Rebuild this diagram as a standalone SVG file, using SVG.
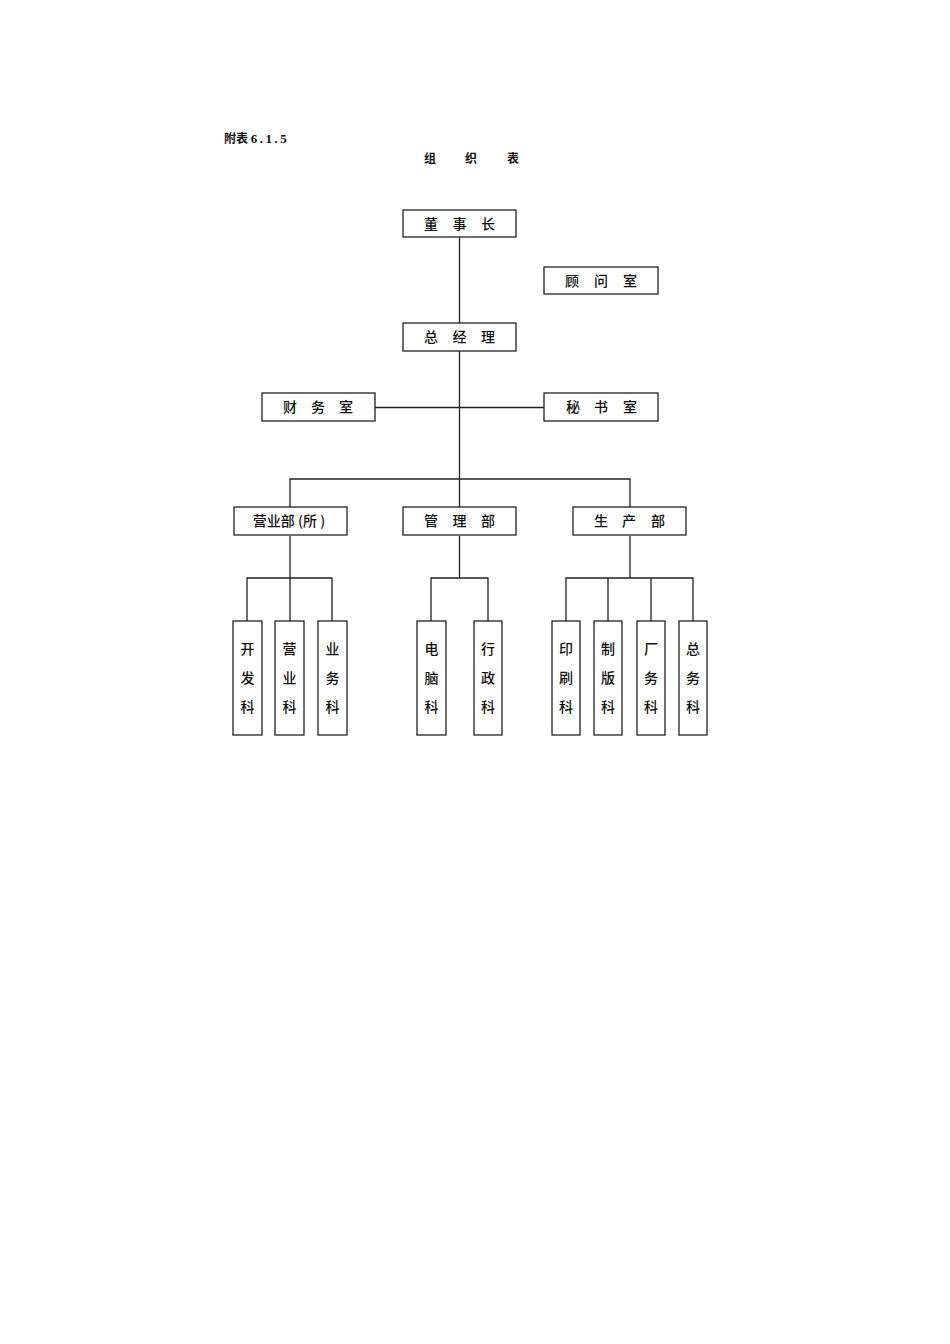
<svg xmlns="http://www.w3.org/2000/svg" width="950" height="1344" viewBox="0 0 950 1344">
<style>
rect.b{fill:#fff;stroke:#222;stroke-width:1.3}
.t{font-family:"Noto Sans CJK SC","Liberation Sans",sans-serif;font-size:14px;fill:#111;text-anchor:middle;dominant-baseline:central;font-weight:500}
.ti{font-family:"Noto Sans CJK SC","Liberation Sans",sans-serif;font-size:12px;fill:#111;text-anchor:middle;dominant-baseline:central;font-weight:bold}
.h{font-family:"Noto Sans CJK SC","Liberation Sans",sans-serif;font-size:12px;fill:#111;font-weight:bold}
#conn path{fill:none;stroke:#222;stroke-width:1.3}
</style>
<rect width="950" height="1344" fill="#fff"/>
<text class="h" x="224" y="143">附表 <tspan font-family="Liberation Serif, serif" font-size="13" letter-spacing="2.5">6.1.5</tspan></text>
<g id="title"><text class="ti" x="430" y="157">组</text><text class="ti" x="471" y="157">织</text><text class="ti" x="513" y="157">表</text></g>
<g id="conn">
<path d="M459.5 237V507"/>
<path d="M375 407.5H544"/>
<path d="M290 507V479H630V507"/>
<path d="M290 536V578M247 621V578H332V621M290 578V621"/>
<path d="M459.5 536V578M431 621V578H488V621"/>
<path d="M630 536V578M566 621V578H693V621M608 578V621M651 578V621"/>
</g>
<g id="n1"><rect class="b" x="403" y="210" width="113" height="27"/><text class="t" x="431" y="223">董</text><text class="t" x="459.5" y="223">事</text><text class="t" x="488" y="223">长</text></g>
<g id="n2"><rect class="b" x="544" y="267" width="114" height="27"/><text class="t" x="572" y="280">顾</text><text class="t" x="601" y="280">问</text><text class="t" x="630" y="280">室</text></g>
<g id="n3"><rect class="b" x="403" y="323" width="113" height="28"/><text class="t" x="431" y="336">总</text><text class="t" x="459.5" y="336">经</text><text class="t" x="488" y="336">理</text></g>
<g id="n4"><rect class="b" x="262" y="393" width="113" height="28"/><text class="t" x="290" y="406">财</text><text class="t" x="318" y="406">务</text><text class="t" x="346" y="406">室</text></g>
<g id="n5"><rect class="b" x="544" y="393" width="114" height="28"/><text class="t" x="573" y="406">秘</text><text class="t" x="601" y="406">书</text><text class="t" x="630" y="406">室</text></g>
<g id="n6"><rect class="b" x="234" y="507" width="113" height="28"/><text class="t" x="289" y="520">营业部 (所 )</text></g>
<g id="n7"><rect class="b" x="403" y="507" width="113" height="28"/><text class="t" x="431" y="520">管</text><text class="t" x="459.5" y="520">理</text><text class="t" x="488" y="520">部</text></g>
<g id="n8"><rect class="b" x="573" y="507" width="113" height="28"/><text class="t" x="601" y="520">生</text><text class="t" x="629" y="520">产</text><text class="t" x="658" y="520">部</text></g>
<g id="s1"><rect class="b" x="233" y="621" width="29" height="114"/><text class="t" x="247.5" y="648">开</text><text class="t" x="247.5" y="677">发</text><text class="t" x="247.5" y="706">科</text></g>
<g id="s2"><rect class="b" x="275" y="621" width="29" height="114"/><text class="t" x="289.5" y="648">营</text><text class="t" x="289.5" y="677">业</text><text class="t" x="289.5" y="706">科</text></g>
<g id="s3"><rect class="b" x="318" y="621" width="29" height="114"/><text class="t" x="332.5" y="648">业</text><text class="t" x="332.5" y="677">务</text><text class="t" x="332.5" y="706">科</text></g>
<g id="s4"><rect class="b" x="417" y="621" width="29" height="114"/><text class="t" x="431.5" y="648">电</text><text class="t" x="431.5" y="677">脑</text><text class="t" x="431.5" y="706">科</text></g>
<g id="s5"><rect class="b" x="474" y="621" width="28" height="114"/><text class="t" x="488" y="648">行</text><text class="t" x="488" y="677">政</text><text class="t" x="488" y="706">科</text></g>
<g id="s6"><rect class="b" x="552" y="621" width="28" height="114"/><text class="t" x="566" y="648">印</text><text class="t" x="566" y="677">刷</text><text class="t" x="566" y="706">科</text></g>
<g id="s7"><rect class="b" x="594" y="621" width="28" height="114"/><text class="t" x="608" y="648">制</text><text class="t" x="608" y="677">版</text><text class="t" x="608" y="706">科</text></g>
<g id="s8"><rect class="b" x="637" y="621" width="28" height="114"/><text class="t" x="651" y="648">厂</text><text class="t" x="651" y="677">务</text><text class="t" x="651" y="706">科</text></g>
<g id="s9"><rect class="b" x="679" y="621" width="28" height="114"/><text class="t" x="693" y="648">总</text><text class="t" x="693" y="677">务</text><text class="t" x="693" y="706">科</text></g>
</svg>
